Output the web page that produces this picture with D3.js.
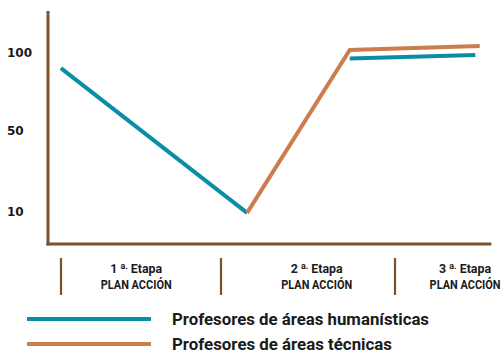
<!DOCTYPE html>
<html>
<head>
<meta charset="utf-8">
<script src="https://cdn.jsdelivr.net/npm/d3@7"></script>
<style>
  body { margin: 0; background: #fff; }
  svg { display: block; }
  .tick-label { font-family: "DejaVu Sans", sans-serif; font-weight: bold; font-size: 12px; fill: #1a1a1a; }
  .stage-label, .legend-text { font-family: Roboto, "DejaVu Sans", sans-serif; font-weight: bold; fill: #1a1a1a; }
</style>
</head>
<body>
<div id="chart"></div>
<script>
// Stages along the x axis (1 = start of 1st stage, 2 = start of 2nd, ...)
const stages = [1, 2, 3];
const stageNames = ["1", "2", "3"];
const stageLabelPos = [1.47, 2.55, 3.48];

// Y ticks
const yTicks = [10, 50, 100];

// Series: x in stage units, y in chart units
// (null = gap, the rise of the blue line is hidden under the orange one)
const humanX = [0.99, 2.15, null, 2.74, 3.55];
const humanY = [90, 9.3, null, 96.2, 98.4];
const tecX = [2.15, 2.74, 3.58];
const tecY = [9.3, 101.6, 104.2];

const seriesNames = ["Profesores de áreas humanísticas", "Profesores de áreas técnicas"];
const colors = ["#0a8ea6", "#cb7d4f"];

const width = 504, height = 352;
const axisColor = "#7a5230";

const svg = d3.select("#chart")
  .append("svg")
  .attr("width", width)
  .attr("height", height);

// Scales (the original spacing isn't linear, so piecewise)
const xScale = d3.scaleLinear()
  .domain([0, 1, 2, 3, 4])
  .range([48, 61, 221, 395, 541]);

const yScale = d3.scaleLinear()
  .domain([10, 50, 100])
  .range([211.5, 130.5, 52.5]);

const xAxisEnd = 3.66;
const axisY = 244, axisX = 48;

// Axes lines
svg.append("line")
  .attr("x1", axisX).attr("x2", axisX)
  .attr("y1", 11).attr("y2", axisY + 1.5)
  .attr("stroke", axisColor).attr("stroke-width", 3);
svg.append("line")
  .attr("x1", axisX - 1.5).attr("x2", xScale(xAxisEnd))
  .attr("y1", axisY).attr("y2", axisY)
  .attr("stroke", axisColor).attr("stroke-width", 3);

// Y tick labels
svg.selectAll(".tick-label")
  .data(yTicks)
  .enter()
  .append("text")
  .attr("class", "tick-label")
  .attr("x", 7)
  .attr("y", d => yScale(d))
  .attr("dy", "0.36em")
  .text(d => d);

// Stage separators
svg.selectAll(".sep")
  .data(stages)
  .enter()
  .append("line")
  .attr("class", "sep")
  .attr("x1", d => xScale(d)).attr("x2", d => xScale(d))
  .attr("y1", 258).attr("y2", 295)
  .attr("stroke", axisColor).attr("stroke-width", 2.2);

// Stage labels (condensed look via textLength)
const labels = svg.selectAll(".stage-label")
  .data(stageNames)
  .enter()
  .append("text")
  .attr("class", "stage-label")
  .attr("text-anchor", "middle")
  .attr("font-size", 12.5)
  .attr("x", (d, i) => xScale(stageLabelPos[i]))
  .attr("y", 273)
  .attr("textLength", 52)
  .attr("lengthAdjust", "spacingAndGlyphs");
labels.append("tspan").text(d => d + " ");
labels.append("tspan").attr("font-size", 9).attr("dy", -4).text("a.");
labels.append("tspan").attr("dy", 4).text(" Etapa");

svg.selectAll(".stage-label2")
  .data(stageNames)
  .enter()
  .append("text")
  .attr("class", "stage-label")
  .attr("text-anchor", "middle")
  .attr("font-size", 12.5)
  .attr("x", (d, i) => xScale(stageLabelPos[i]))
  .attr("y", 289)
  .attr("textLength", 71)
  .attr("lengthAdjust", "spacingAndGlyphs")
  .text("PLAN ACCIÓN");

// Lines
const line = d3.line()
  .defined(d => d[0] != null && d[1] != null)
  .x(d => xScale(d[0]))
  .y(d => yScale(d[1]));

svg.append("path")
  .datum(d3.zip(humanX, humanY))
  .attr("d", line)
  .attr("fill", "none")
  .attr("stroke", colors[0])
  .attr("stroke-width", 4);

svg.append("path")
  .datum(d3.zip(tecX, tecY))
  .attr("d", line)
  .attr("fill", "none")
  .attr("stroke", colors[1])
  .attr("stroke-width", 4);

// Legend
const legend = svg.append("g").attr("class", "legend");
const legendY = [319, 344];
const legendLen = [257, 220];
legend.selectAll("line")
  .data(seriesNames)
  .enter()
  .append("line")
  .attr("x1", 27).attr("x2", 151)
  .attr("y1", (d, i) => legendY[i]).attr("y2", (d, i) => legendY[i])
  .attr("stroke", (d, i) => colors[i])
  .attr("stroke-width", 4);
legend.selectAll("text")
  .data(seriesNames)
  .enter()
  .append("text")
  .attr("class", "legend-text")
  .attr("font-size", 17)
  .attr("x", 172)
  .attr("y", (d, i) => legendY[i])
  .attr("dy", "0.36em")
  .attr("textLength", (d, i) => legendLen[i])
  .attr("lengthAdjust", "spacingAndGlyphs")
  .text(d => d);
</script>
</body>
</html>
